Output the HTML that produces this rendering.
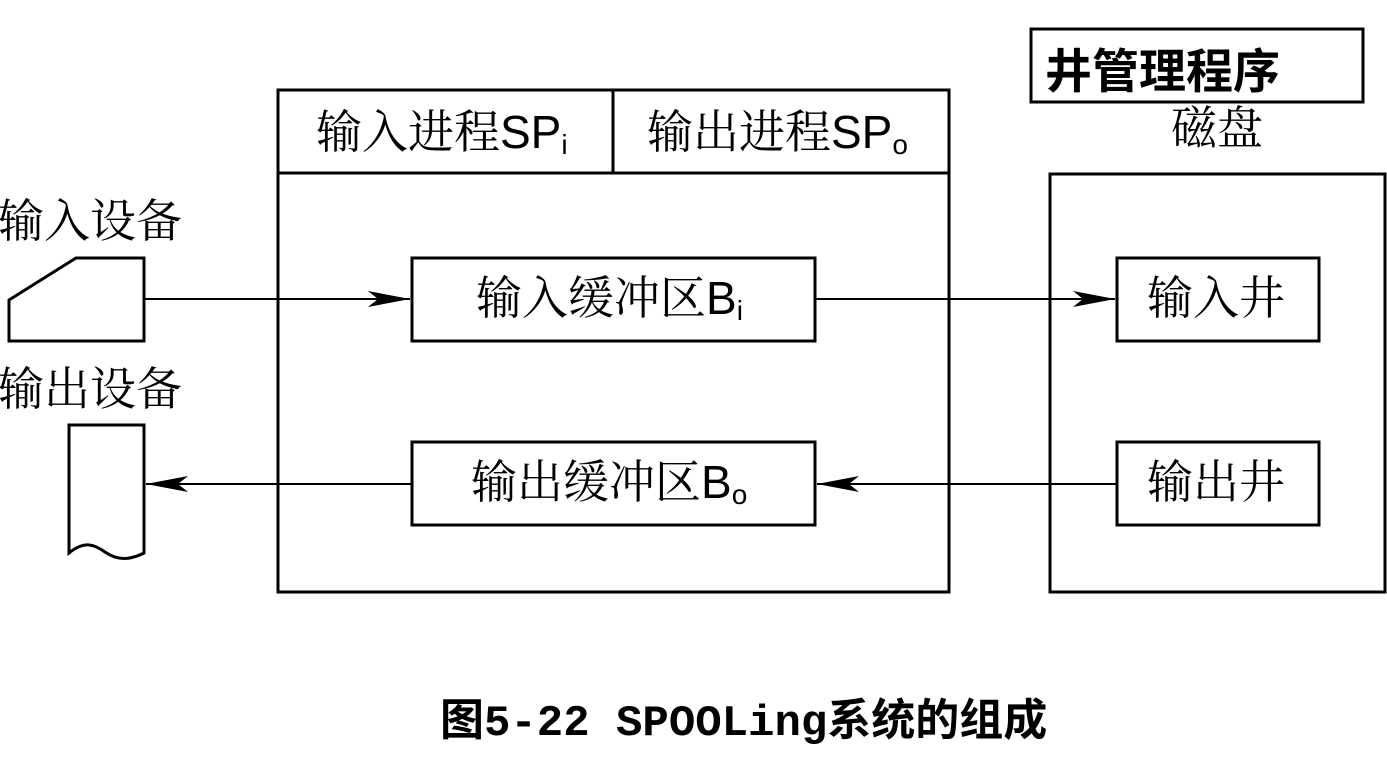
<!DOCTYPE html>
<html><head><meta charset="utf-8"><style>
html,body{margin:0;padding:0;background:#fff;}
svg{display:block}
.t{font-family:"Liberation Sans","Noto Serif CJK SC",serif;font-size:46px;fill:#000}
.b{font-family:"Liberation Sans","Noto Sans CJK SC",sans-serif;font-weight:bold;fill:#000}
.m{font-family:"Liberation Mono","Noto Sans CJK SC",monospace;font-weight:bold;fill:#000}
</style></head><body>
<svg width="1387" height="763" viewBox="0 0 1387 763" xmlns="http://www.w3.org/2000/svg">
<defs><marker id="a" markerWidth="42" markerHeight="16" refX="42" refY="8" orient="auto" markerUnits="userSpaceOnUse"><path d="M0,0 L42,8 L0,16 L10,8 Z" fill="#000"/></marker></defs>
<g fill="none" stroke="#000" stroke-width="3">
<rect x="278" y="90" width="671" height="502"/>
<line x1="278" y1="173" x2="949" y2="173"/>
<line x1="613" y1="90" x2="613" y2="173"/>
<rect x="412" y="258" width="403" height="83"/>
<rect x="412" y="442" width="403" height="83"/>
<rect x="1050" y="174" width="335" height="418"/>
<rect x="1117" y="258" width="202" height="83"/>
<rect x="1117" y="442" width="202" height="83"/>
<rect x="1031" y="29" width="332" height="73"/>
<path d="M9,300 L76,258 L144,258 L144,341 L9,341 Z"/>
<path d="M144,425 L69,425 L69,553 C85,540 95,545 105,552 C118,561 130,560 144,553 Z"/>
</g>
<g stroke="#000" stroke-width="2">
<line x1="144" y1="299" x2="410" y2="299" marker-end="url(#a)"/>
<line x1="815" y1="299" x2="1115" y2="299" marker-end="url(#a)"/>
<line x1="1117" y1="484" x2="817" y2="484" marker-end="url(#a)"/>
<line x1="412" y1="484" x2="146" y2="484" marker-end="url(#a)"/>
</g>
<text class="t" x="316" y="148">输入进程SP<tspan font-size="28" dy="6">i</tspan></text>
<text class="t" x="647" y="148">输出进程SP<tspan font-size="28" dy="6">o</tspan></text>
<text class="t" x="476" y="314">输入缓冲区B<tspan font-size="28" dy="6">i</tspan></text>
<text class="t" x="471" y="498">输出缓冲区B<tspan font-size="28" dy="6">o</tspan></text>
<text class="t" x="1147" y="314">输入井</text>
<text class="t" x="1147" y="498">输出井</text>
<text class="t" x="1171" y="144">磁盘</text>
<text class="t" x="-2" y="237">输入设备</text>
<text class="t" x="-2" y="405">输出设备</text>
<text class="b" x="1045" y="88" font-size="47">井管理程序</text>
<text class="m" x="440" y="735" font-size="44">图5-22 SPOOLing系统的组成</text>
</svg>
</body></html>
